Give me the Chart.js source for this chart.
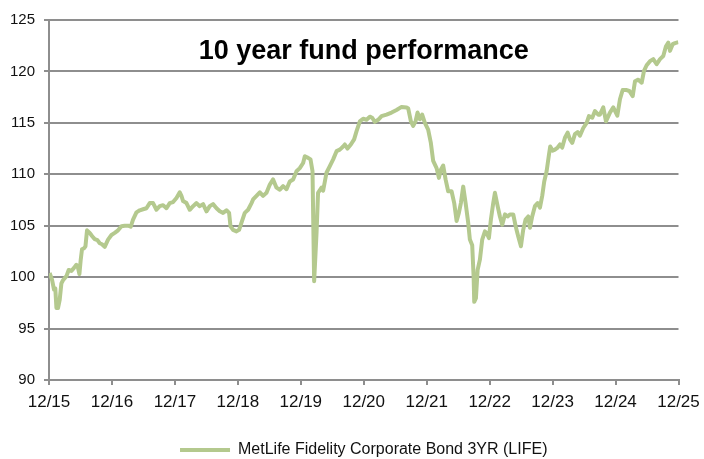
<!DOCTYPE html>
<html>
<head>
<meta charset="utf-8">
<script src="https://cdn.jsdelivr.net/npm/chart.js@4/dist/chart.umd.min.js"></script>
<style>
  html, body { margin: 0; padding: 0; background: #fff; }
  #wrap { width: 704px; height: 459px; }
</style>
</head>
<body>
<div id="wrap"><canvas id="chart"></canvas></div>
<script>
// Years since 12/15.
const yearsSince = [
    0.01, 0.048, 0.079, 0.1, 0.118, 0.143, 0.17, 0.197, 0.222, 0.277, 0.313, 0.356, 0.397, 0.435, 0.461, 0.483,
    0.504, 0.524, 0.556, 0.579, 0.604, 0.647, 0.683, 0.726, 0.769, 0.806, 0.842, 0.885, 0.938, 0.992,
    1.044, 1.097, 1.151, 1.203, 1.256, 1.298, 1.335, 1.389, 1.442, 1.494, 1.548, 1.6, 1.653, 1.707, 1.759,
    1.812, 1.866, 1.918, 1.971, 2.025, 2.077, 2.104, 2.13, 2.184, 2.236, 2.289, 2.343, 2.395, 2.448, 2.502,
    2.554, 2.606, 2.661, 2.713, 2.765, 2.819, 2.861, 2.883, 2.924, 2.978, 3.02, 3.058, 3.11, 3.163, 3.217,
    3.242, 3.296, 3.349, 3.401, 3.455, 3.508, 3.56, 3.614, 3.667, 3.719, 3.773, 3.825, 3.878, 3.932, 3.984,
    4.037, 4.064, 4.116, 4.154, 4.186, 4.212, 4.25, 4.274, 4.329, 4.355, 4.408, 4.461, 4.514, 4.568, 4.62,
    4.673, 4.7, 4.742, 4.795, 4.847, 4.886, 4.938, 4.99, 5.044, 5.097, 5.134, 5.176, 5.229, 5.283, 5.362,
    5.442, 5.521, 5.601, 5.68, 5.706, 5.749, 5.785, 5.823, 5.855, 5.892, 5.928, 5.971, 6.023, 6.066, 6.103,
    6.157, 6.194, 6.225, 6.262, 6.3, 6.341, 6.395, 6.437, 6.475, 6.511, 6.543, 6.58, 6.618, 6.659, 6.686,
    6.723, 6.745, 6.755, 6.782, 6.809, 6.845, 6.882, 6.925, 6.952, 6.988, 7.02, 7.057, 7.084, 7.127, 7.163,
    7.2, 7.243, 7.285, 7.322, 7.375, 7.413, 7.454, 7.497, 7.533, 7.571, 7.613, 7.64, 7.676, 7.719, 7.762,
    7.799, 7.835, 7.867, 7.905, 7.942, 7.962, 8.0, 8.037, 8.08, 8.117, 8.153, 8.196, 8.239, 8.275, 8.312,
    8.355, 8.398, 8.434, 8.487, 8.541, 8.577, 8.63, 8.673, 8.725, 8.752, 8.805, 8.848, 8.911, 8.964, 9.028,
    9.07, 9.113, 9.166, 9.218, 9.272, 9.309, 9.361, 9.415, 9.452, 9.494, 9.547, 9.599, 9.653, 9.706, 9.758,
    9.801, 9.838, 9.865, 9.908, 9.945, 9.997
];

// Fund value, same order as yearsSince.
const fundValues = [
    100.4, 99.75, 98.8, 98.9, 97.0, 97.0, 97.8, 99.4, 99.7, 100.1, 100.7, 100.6, 100.9, 101.2, 100.9, 100.3,
    101.7, 102.7, 102.8, 103.0, 104.55, 104.3, 104.0, 103.7, 103.6, 103.3, 103.2, 102.95, 103.65, 104.1,
    104.3, 104.55, 104.95, 105.0, 105.0, 104.9, 105.6, 106.3, 106.5, 106.6, 106.7, 107.2, 107.2, 106.55, 106.9,
    107.0, 106.7, 107.2, 107.3, 107.7, 108.25, 107.9, 107.4, 107.2, 106.55, 106.9, 107.2, 106.9, 107.1, 106.4,
    106.9, 107.1, 106.7, 106.4, 106.25, 106.5, 106.25, 104.95, 104.6, 104.45, 104.6, 105.3, 106.25, 106.55, 107.2,
    107.55, 107.9, 108.25, 107.9, 108.2, 109.0, 109.5, 108.7, 108.5, 108.85, 108.55, 109.3, 109.5, 110.3, 110.6,
    111.1, 111.75, 111.6, 111.45, 110.3, 99.6, 104.3, 108.2, 108.7, 108.4, 110.15, 110.8, 111.45, 112.25, 112.4,
    112.7, 112.9, 112.5, 112.9, 113.4, 114.2, 115.15, 115.4, 115.3, 115.6, 115.5, 115.1, 115.3, 115.65, 115.8,
    116.0, 116.25, 116.55, 116.5, 116.4, 115.15, 114.7, 115.15, 116.0, 115.35, 115.8, 115.0, 114.35, 113.05, 111.3,
    110.6, 109.65, 110.45, 110.85, 109.5, 108.35, 108.35, 107.2, 105.45, 106.25, 107.2, 108.8, 107.2, 105.3, 103.65,
    103.1, 100.1, 97.6, 97.95, 100.7, 101.7, 103.65, 104.45, 104.3, 103.8, 105.6, 107.2, 108.2, 106.9, 105.9,
    105.1, 106.1, 105.9, 106.1, 106.1, 104.95, 103.95, 103.0, 104.6, 105.6, 105.9, 104.8, 105.9, 106.9, 107.2,
    106.75, 107.9, 109.3, 110.3, 111.9, 112.7, 112.3, 112.4, 112.6, 112.9, 112.6, 113.55, 114.05, 113.4, 113.05,
    113.9, 114.1, 113.75, 114.5, 115.0, 115.65, 115.5, 116.15, 115.8, 115.8, 116.5, 115.15, 116.0, 116.5, 115.7,
    117.3, 118.2, 118.2, 118.1, 117.6, 119.05, 119.2, 118.9, 120.05, 120.6, 121.0, 121.2, 120.7, 121.2, 121.5,
    122.45, 122.8, 122.0, 122.65, 122.75, 122.85
];

// Tick labels for x = 0..10.
const yearLabels = ["12/15", "12/16", "12/17", "12/18", "12/19", "12/20", "12/21", "12/22", "12/23", "12/24", "12/25"];

const seriesName = "MetLife Fidelity Corporate Bond 3YR (LIFE)";
const chartTitle = "10 year fund performance";

const fontFamily = "'Liberation Sans', Arial, sans-serif";
const gridColor = "#8e8e8e";
const lineColor = "#b4c98e";

// Title sits inside the plot area, so draw it ourselves.
const insideTitle = {
    id: "insideTitle",
    afterDraw(chart) {
        const { ctx, chartArea } = chart;
        ctx.save();
        ctx.font = "bold 27px " + fontFamily;
        ctx.fillStyle = "#000";
        ctx.textAlign = "center";
        ctx.textBaseline = "alphabetic";
        ctx.fillText(chartTitle, (chartArea.left + chartArea.right) / 2, chartArea.top + 38.5);
        ctx.restore();
    },
};

const points = yearsSince.map((t, i) => ({ x: t, y: fundValues[i] }));

new Chart(document.getElementById("chart"), {
    type: "line",
    data: {
        datasets: [
            {
                label: seriesName,
                data: points,
                borderColor: lineColor,
                backgroundColor: lineColor,
                borderWidth: 4,
                pointRadius: 0,
                tension: 0,
                borderJoinStyle: "round",
            },
        ],
    },
    options: {
        responsive: true,
        maintainAspectRatio: false,
        animation: false,
        layout: {
            padding: { left: 0, right: 25.5, top: 20, bottom: -9 },
        },
        scales: {
            x: {
                type: "linear",
                min: 0,
                max: 10,
                afterFit(scale) {
                    scale.height = 59;
                    // let the layout padding decide the right edge
                    scale.paddingLeft = 0;
                    scale.paddingRight = 0;
                },
                ticks: {
                    stepSize: 1,
                    autoSkip: false,
                    maxRotation: 0,
                    padding: 7,
                    color: "#111",
                    font: { family: fontFamily, size: 17 },
                    callback: (v) => yearLabels[v],
                },
                grid: {
                    drawOnChartArea: false,
                    drawTicks: true,
                    tickLength: 5,
                    color: gridColor,
                    lineWidth: 2,
                },
                border: { color: gridColor, width: 2 },
            },
            y: {
                min: 90,
                max: 125,
                afterFit(scale) {
                    scale.width = 49;
                },
                ticks: {
                    stepSize: 5,
                    padding: 9,
                    color: "#111",
                    font: { family: fontFamily, size: 15 },
                },
                grid: {
                    color: gridColor,
                    lineWidth: 2,
                    tickLength: 5,
                },
                border: { color: gridColor, width: 2 },
            },
        },
        plugins: {
            legend: {
                position: "bottom",
                fullSize: false,
                labels: {
                    usePointStyle: true,
                    pointStyle: "line",
                    pointStyleWidth: 50,
                    boxWidth: 50,
                    padding: 3,
                    color: "#111",
                    font: { family: fontFamily, size: 16 },
                },
            },
            tooltip: { enabled: false },
        },
    },
    plugins: [insideTitle],
});
</script>
</body>
</html>
